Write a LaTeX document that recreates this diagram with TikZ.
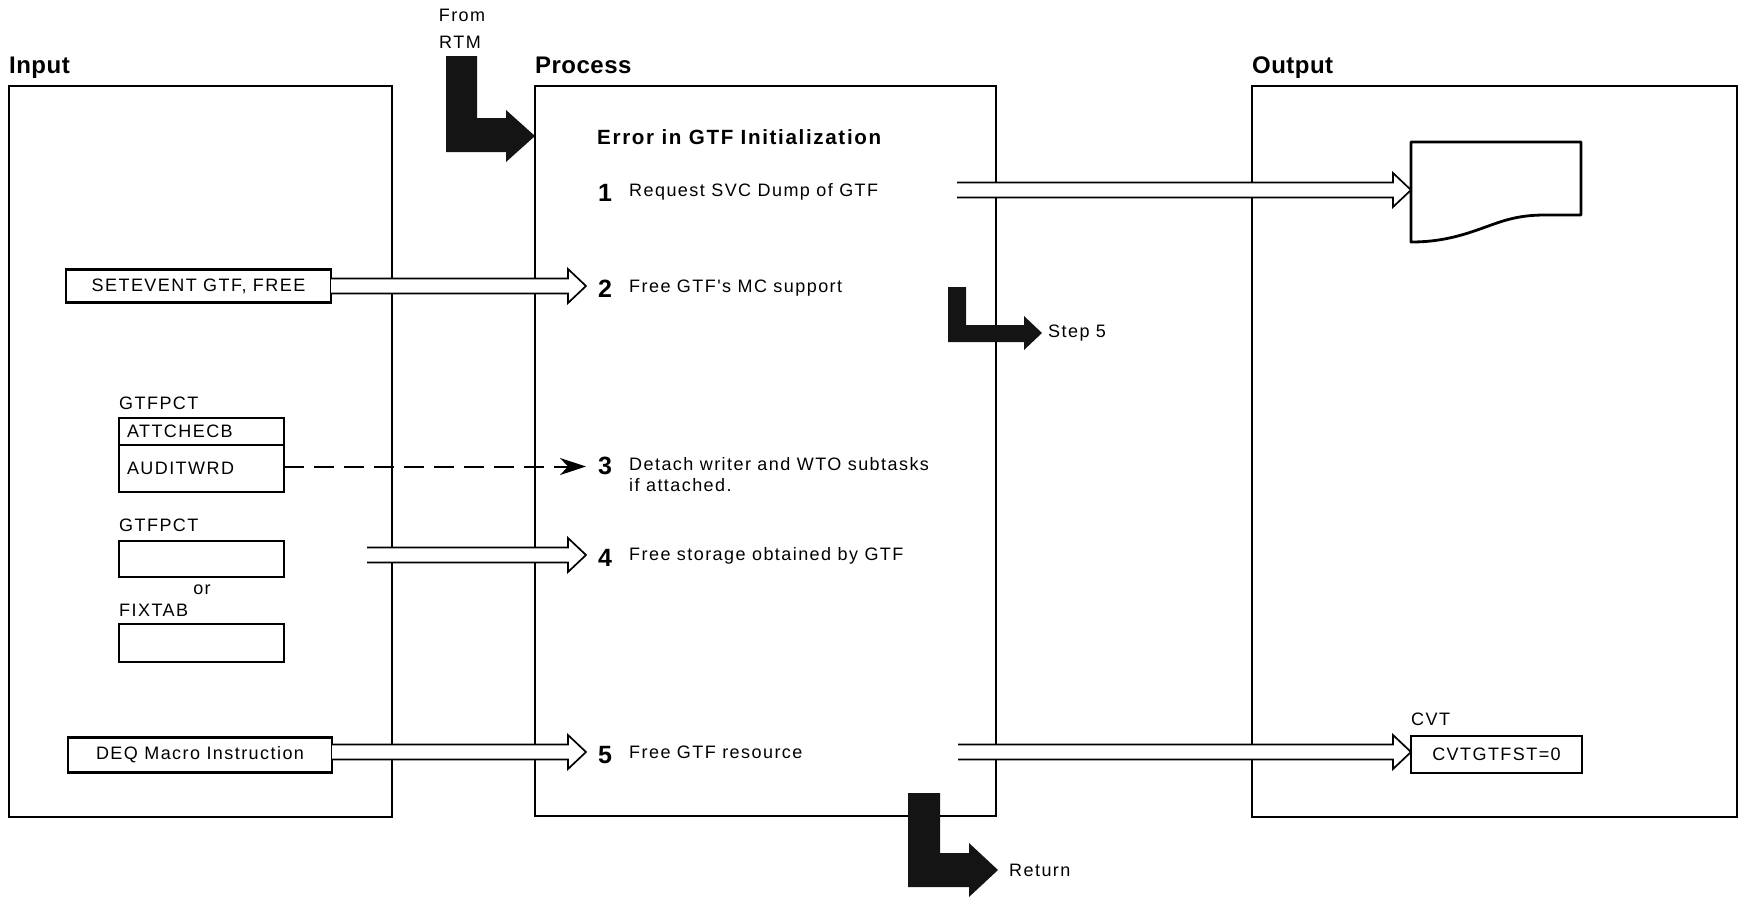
\documentclass[tikz,border=0pt]{standalone}
\usepackage{fontspec}
\setmainfont{Liberation Sans}
\newfontfamily\plainsans[LetterSpace=8]{Liberation Sans}
\newfontfamily\headsans[LetterSpace=2]{Liberation Sans}
\usetikzlibrary{arrows.meta,calc}

% wide hollow arrow, horizontal, from the first point to the x of the second
\newcommand{\hollowarrow}[2]{%
  \path[hollow] let \p1=(#1), \p2=(#2) in
    (\x1,\y1+7.5pt) -- (\x2-18pt,\y1+7.5pt) -- (\x2-18pt,\y1+17pt) -- (\x2,\y1)
    -- (\x2-18pt,\y1-17pt) -- (\x2-18pt,\y1-7.5pt) -- (\x1,\y1-7.5pt);}

\tikzset{
  frame/.style={draw, line width=2.2pt, inner sep=0pt, outer sep=0pt},
  databox/.style={draw, line width=2.6pt, inner sep=0pt, outer sep=0pt,
    font=\plainsans\fontsize{18}{21}\selectfont},
  lbl/.style={inner sep=0pt, font=\plainsans\fontsize{18}{21}\selectfont},
  title/.style={inner sep=0pt, anchor=base west,
    font=\headsans\bfseries\fontsize{24}{28}\selectfont},
  heading/.style={inner sep=0pt, anchor=base west,
    font=\plainsans\bfseries\fontsize{20.6}{24}\selectfont},
  num/.style={inner xsep=12pt, inner ysep=0pt, anchor=base west,
    font=\plainsans\bfseries\fontsize{25}{28}\selectfont},
  steptext/.style={inner sep=0pt, anchor=base west,
    font=\plainsans\fontsize{18}{21}\selectfont},
  hollow/.style={draw, fill=white, line width=1.7pt},
  dasharrow/.style={line width=2pt, dash pattern=on 20pt off 10pt,
    -{Stealth[length=26pt,width=17pt,inset=8pt]}},
  elbow/.style={fill=black!92, draw=none},
}

\begin{document}
\begin{tikzpicture}[x=1pt,y=-1pt]
\useasboundingbox (0,0) rectangle (1741,898);

% the three columns
\node[frame, minimum width=383pt, minimum height=731pt] (inbox) at (200.5,451.5) {};
\node[frame, minimum width=461pt, minimum height=730pt] (procbox) at (765.5,451) {};
\node[frame, minimum width=485pt, minimum height=731pt] (outbox) at (1494.5,451.5) {};

\node[title] (tin) at (9,73) {Input};
\node[title] (tproc) at (535,73) {Process};
\node[title] (tout) at (1252,73) {Output};

% entry from RTM
\node[lbl] (from) at (462,15) {From};
\node[lbl] (rtm) at (460,42) {RTM};
\fill[elbow] (446,56) -- (477,56) -- (477,118) -- (506,118) -- (506,110) -- (535,136)
  -- (506,162) -- (506,152) -- (446,152) -- cycle;

% process steps
\node[heading] (errhead) at (597,144) {Error in GTF Initialization};
\node[num] (n1) at (586,201) {1};
\node[steptext] (s1) at (629,196) {Request SVC Dump of GTF};
\node[num] (n2) at (586,297) {2};
\node[steptext] (s2) at (629,292) {Free GTF's MC support};
\node[num] (n3) at (586,474) {3};
\node[steptext] (s3) at (629,470) {Detach writer and WTO subtasks};
\node[steptext] (s3b) at (629,491) {if attached.};
\node[num] (n4) at (586,566) {4};
\node[steptext] (s4) at (629,560) {Free storage obtained by GTF};
\node[num] (n5) at (586,763) {5};
\node[steptext] (s5) at (629,758) {Free GTF resource};

% input data
\node[databox, minimum width=265pt, minimum height=33pt] (setevent) at (198.5,286)
  {SETEVENT GTF, FREE};
\node[lbl, anchor=west] (pct1) at (119,403) {GTFPCT};
\node[databox, minimum width=165pt, minimum height=27pt, anchor=north west,
  text width=149pt, align=left] (attch) at (119,418) {ATTCHECB};
\node[databox, minimum width=165pt, minimum height=47pt, anchor=north west,
  text width=149pt, align=left] (audit) at (attch.south west) {AUDITWRD};
\node[lbl, anchor=west] (pct2) at (119,525) {GTFPCT};
\node[databox, minimum width=165pt, minimum height=36pt, anchor=north west] (pctarea)
  at (119,541) {};
\node[lbl] (orword) at (202,590) {or};
\node[lbl, anchor=west] (fix) at (119,610) {FIXTAB};
\node[databox, minimum width=165pt, minimum height=38pt, anchor=north west] (fixarea)
  at (119,624) {};
\node[databox, minimum width=264pt, minimum height=35pt] (deq) at (200,755)
  {DEQ Macro Instruction};

% output data
\draw[line width=2.8pt, line join=round] (1411,142) -- (1581,142) -- (1581,215)
  -- (1545,215) .. controls (1515,215) and (1500,222) .. (1480,229)
  .. controls (1455,238) and (1435,242) .. (1411,242) -- cycle;
\coordinate (dumpin) at (1411,190);
\node[lbl, anchor=base west] (cvtlbl) at (1411,725) {CVT};
\node[databox, minimum width=171pt, minimum height=37pt] (cvt) at (1496.5,754.5)
  {CVTGTFST=0};

% flows
\coordinate (a1) at (957,190);
\coordinate (a4) at (367,555);
\coordinate (a5) at (958,752);
\hollowarrow{a1}{dumpin}
\hollowarrow{setevent.east}{n2.west}
\draw[dasharrow] ([yshift=2pt]audit.east) -- ([yshift=2pt]audit.east -| n3.west);
\hollowarrow{a4}{n4.west}
\hollowarrow{[yshift=3pt]deq.east}{n5.west}
\hollowarrow{a5}{cvt.west}

% branch to step 5
\fill[elbow] (948,287) -- (966,287) -- (966,325) -- (1024,325) -- (1024,316) -- (1042,333)
  -- (1024,350) -- (1024,342) -- (948,342) -- cycle;
\node[lbl, anchor=west] (step5) at (1048,333) {Step 5};

% exit
\fill[elbow] (908,793) -- (940,793) -- (940,853) -- (969,853) -- (969,843) -- (998,870)
  -- (969,897) -- (969,887) -- (908,887) -- cycle;
\node[lbl, anchor=west] (ret) at (1009,870) {Return};
\end{tikzpicture}
\end{document}
